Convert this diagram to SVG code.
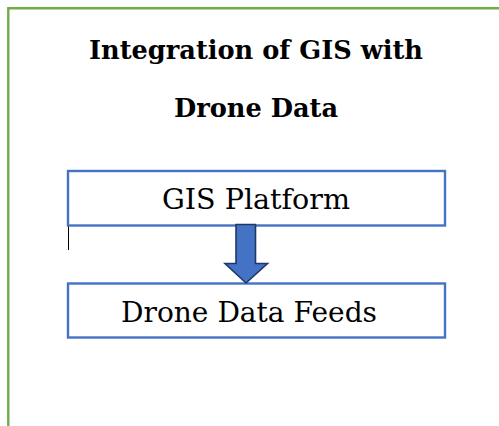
<svg xmlns="http://www.w3.org/2000/svg" width="499" height="426" viewBox="0 0 499 426">
<style>
.title{font-family:"DejaVu Serif","Liberation Serif",serif;font-weight:bold;font-size:26px;fill:#000;text-anchor:middle}
.lbl{font-family:"DejaVu Serif","Liberation Serif",serif;font-size:27px;fill:#000;text-anchor:middle}
.box{fill:#fff;stroke:#4472C4;stroke-width:2.4}
</style>
<rect width="499" height="426" fill="#fff"/>
<path d="M8.3,426 V8.3 H499" fill="none" stroke="#70AD47" stroke-width="2.4"/>
<g id="title">
<text class="title" x="256" y="59" textLength="334" lengthAdjust="spacingAndGlyphs">Integration of GIS with</text>
<text class="title" x="256" y="117" textLength="164" lengthAdjust="spacingAndGlyphs">Drone Data</text>
</g>
<g id="gis-platform">
<rect class="box" x="68" y="171" width="377" height="54.5"/>
<text class="lbl" x="256" y="209" textLength="188" lengthAdjust="spacingAndGlyphs">GIS Platform</text>
</g>
<g id="drone-data-feeds">
<rect class="box" x="68" y="283.5" width="377" height="54"/>
<text class="lbl" x="249" y="322" textLength="256" lengthAdjust="spacingAndGlyphs">Drone Data Feeds</text>
</g>
<g id="connectors">
<path d="M236,224.5 H255.5 V263.5 H267.5 L246,283 L225,263.5 H236 Z" fill="#4472C4" stroke="#1F3864" stroke-width="1.6" stroke-linejoin="miter"/>
<line x1="68.5" y1="226.5" x2="68.5" y2="250" stroke="#000" stroke-width="1"/>
</g>
</svg>
